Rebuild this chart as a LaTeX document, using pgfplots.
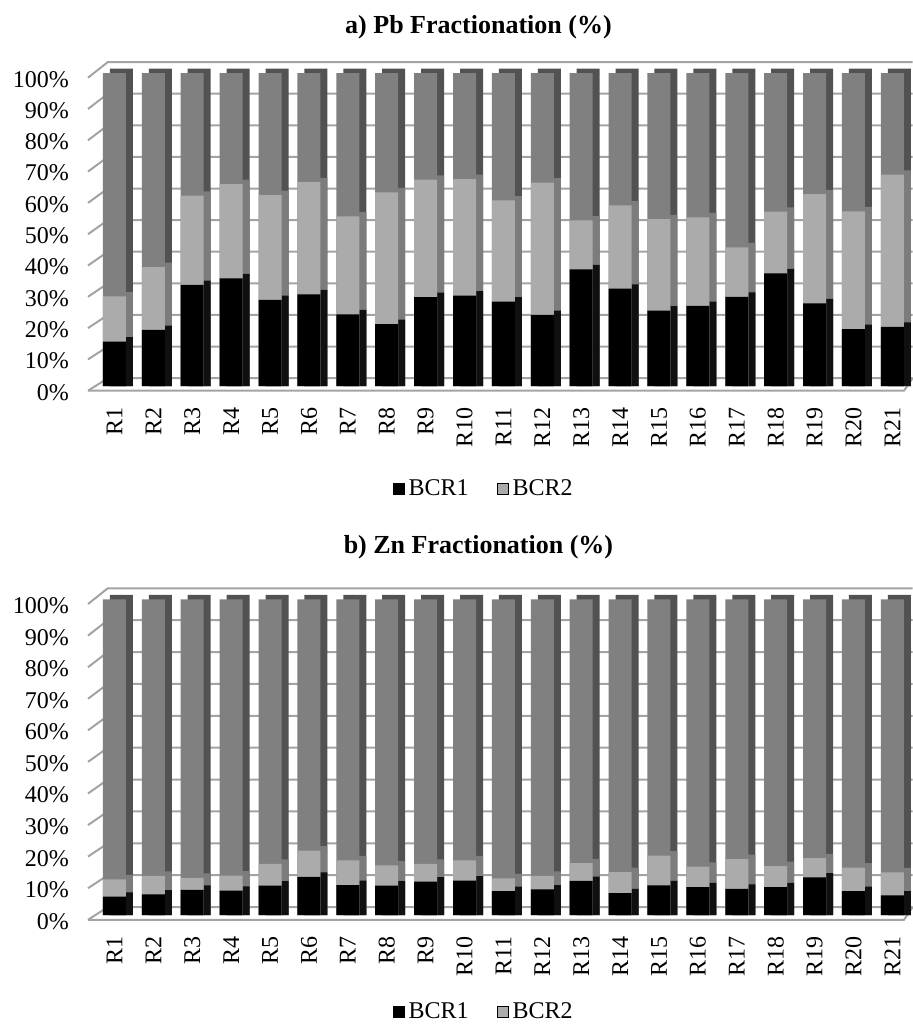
\documentclass[border=0pt]{standalone}
\usepackage{pgfplots}
\pgfplotsset{compat=1.18}
\usepackage{pgfplotstable}
\usepackage{fontspec}
\setmainfont{Liberation Serif}
\definecolor{resF}{HTML}{808080}
\definecolor{resS}{HTML}{525252}
\definecolor{bcrTwoF}{HTML}{ABABAB}
\definecolor{bcrTwoS}{HTML}{7C7C7C}
\definecolor{bcrOneS}{HTML}{101010}
\definecolor{gridc}{HTML}{A3A3A3}

\pgfplotstableread{
x b1 b2 b3
0 14.2 14.4 71.4
1 17.9 20.1 62.0
2 32.3 28.5 39.2
3 34.4 30.1 35.5
4 27.5 33.5 39.0
5 29.3 35.8 34.9
6 22.9 31.3 45.8
7 19.8 42.1 38.1
8 28.4 37.5 34.1
9 28.9 37.2 33.9
10 27.0 32.3 40.7
11 22.7 42.3 35.0
12 37.3 15.6 47.1
13 31.1 26.6 42.3
14 24.1 29.2 46.7
15 25.6 28.3 46.1
16 28.5 15.8 55.7
17 36.0 19.7 44.3
18 26.4 34.9 38.7
19 18.2 37.6 44.2
20 18.9 48.6 32.5
}\pbdata

\pgfplotstableread{
x b1 b2 b3
0 5.8 5.5 88.7
1 6.5 5.9 87.6
2 8.0 3.8 88.2
3 7.7 4.8 87.5
4 9.3 6.9 83.8
5 12.1 8.3 79.6
6 9.5 7.8 82.7
7 9.3 6.4 84.3
8 10.6 5.6 83.8
9 10.9 6.4 82.7
10 7.6 4.0 88.4
11 8.1 4.3 87.6
12 10.8 5.6 83.6
13 6.9 6.7 86.4
14 9.4 9.4 81.2
15 8.8 6.5 84.7
16 8.3 9.4 82.3
17 8.8 6.7 84.5
18 11.9 6.1 82.0
19 7.6 7.4 85.0
20 6.2 7.3 86.5
}\zndata

\tikzset{gridl/.style={draw=gridc, line width=1pt}}

\pgfplotsset{
  fracaxis/.style={
    scale only axis, width=408pt,
    xmin=-0.68, xmax=20.3, ymin=-3, ymax=100,
    clip=false, set layers,
    axis line style={draw=none}, tick style={draw=none}, major tick length=0pt,
    xtick={0,...,20},
    xticklabels={R1,R2,R3,R4,R5,R6,R7,R8,R9,R10,R11,R12,R13,R14,R15,R16,R17,R18,R19,R20,R21},
    ytick={-2,8,18,28,38,48,58,68,78,88,98},
    yticklabels={0\%,10\%,20\%,30\%,40\%,50\%,60\%,70\%,80\%,90\%,100\%},
    tick label style={font=\fontsize{12}{14}\selectfont},
    xticklabel style={rotate=90, anchor=east},
    xticklabel shift=2.3pt, yticklabel shift=6pt,
    every axis title/.style={anchor=base, font=\bfseries\fontsize{13}{15}\selectfont},
    legend columns=-1,
    legend style={anchor=center, draw=none, fill=none,
      font=\fontsize{12}{14}\selectfont,
      /tikz/every even column/.append style={column sep=12pt}},
    legend image code/.code={\fill[#1] (0pt,-2.8pt) rectangle (5.6pt,2.8pt);},
  },
  shad/.style={ybar, bar width=11.5pt, bar shift=3.5pt, draw=none, forget plot},
  front/.style={ybar, bar width=11.5pt, bar shift=0pt, draw=none, forget plot},
}

\begin{document}
\begin{tikzpicture}

% ---------- a) Pb ----------
\begin{axis}[fracaxis, height=161.2pt, at={(44pt,-197.7pt)}, anchor=south west,
  title={a) Pb Fractionation (\%)}, title style={at={(0.4785,1.123)}},
  legend style={at={(0.486,-0.290)}}]
\addlegendimage{fill=black}\addlegendentry{BCR1}
\addlegendimage{fill=bcrTwoF}\addlegendentry{BCR2}
\begin{pgfonlayer}{axis background}
\pgfplotsinvokeforeach{0,10,...,100}{
  \draw[gridl] (axis cs:-0.68,{#1-1.5}) -- (axis cs:-0.17,{1.01*#1+2.5}) -- (axis cs:20.52,{1.01*#1+2.5});
}
\draw[gridl] (axis cs:-0.68,-1.5) -- (axis cs:20.3,-1.5) -- (axis cs:20.52,2.5);
\end{pgfonlayer}
\addplot[shad, fill=resS] table[x=x, y expr=\thisrow{b1}+\thisrow{b2}+\thisrow{b3}+1.4]{\pbdata};
\addplot[shad, fill=bcrTwoS] table[x=x, y expr=\thisrow{b1}+\thisrow{b2}+1.4]{\pbdata};
\addplot[shad, fill=bcrOneS] table[x=x, y expr=\thisrow{b1}+1.4]{\pbdata};
\addplot[front, fill=resF] table[x=x, y expr=\thisrow{b1}+\thisrow{b2}+\thisrow{b3}]{\pbdata};
\addplot[front, fill=bcrTwoF] table[x=x, y expr=\thisrow{b1}+\thisrow{b2}]{\pbdata};
\addplot[front, fill=black] table[x=x, y=b1]{\pbdata};
\end{axis}

% ---------- b) Zn ----------
\begin{axis}[fracaxis, height=162.59pt, at={(44pt,-462.24pt)}, anchor=south west,
  title={b) Zn Fractionation (\%)}, title style={at={(0.4785,1.141)}},
  legend style={at={(0.486,-0.269)}}]
\addlegendimage{fill=black}\addlegendentry{BCR1}
\addlegendimage{fill=bcrTwoF}\addlegendentry{BCR2}
\begin{pgfonlayer}{axis background}
\pgfplotsinvokeforeach{0,10,...,100}{
  \draw[gridl] (axis cs:-0.68,{#1-1.5}) -- (axis cs:-0.17,{1.01*#1+2.5}) -- (axis cs:20.52,{1.01*#1+2.5});
}
\draw[gridl] (axis cs:-0.68,-1.5) -- (axis cs:20.3,-1.5) -- (axis cs:20.52,2.5);
\end{pgfonlayer}
\addplot[shad, fill=resS] table[x=x, y expr=\thisrow{b1}+\thisrow{b2}+\thisrow{b3}+1.4]{\zndata};
\addplot[shad, fill=bcrTwoS] table[x=x, y expr=\thisrow{b1}+\thisrow{b2}+1.4]{\zndata};
\addplot[shad, fill=bcrOneS] table[x=x, y expr=\thisrow{b1}+1.4]{\zndata};
\addplot[front, fill=resF] table[x=x, y expr=\thisrow{b1}+\thisrow{b2}+\thisrow{b3}]{\zndata};
\addplot[front, fill=bcrTwoF] table[x=x, y expr=\thisrow{b1}+\thisrow{b2}]{\zndata};
\addplot[front, fill=black] table[x=x, y=b1]{\zndata};
\end{axis}

\pgfresetboundingbox
\path (0,0) rectangle (456pt,-514pt);
\end{tikzpicture}
\end{document}
